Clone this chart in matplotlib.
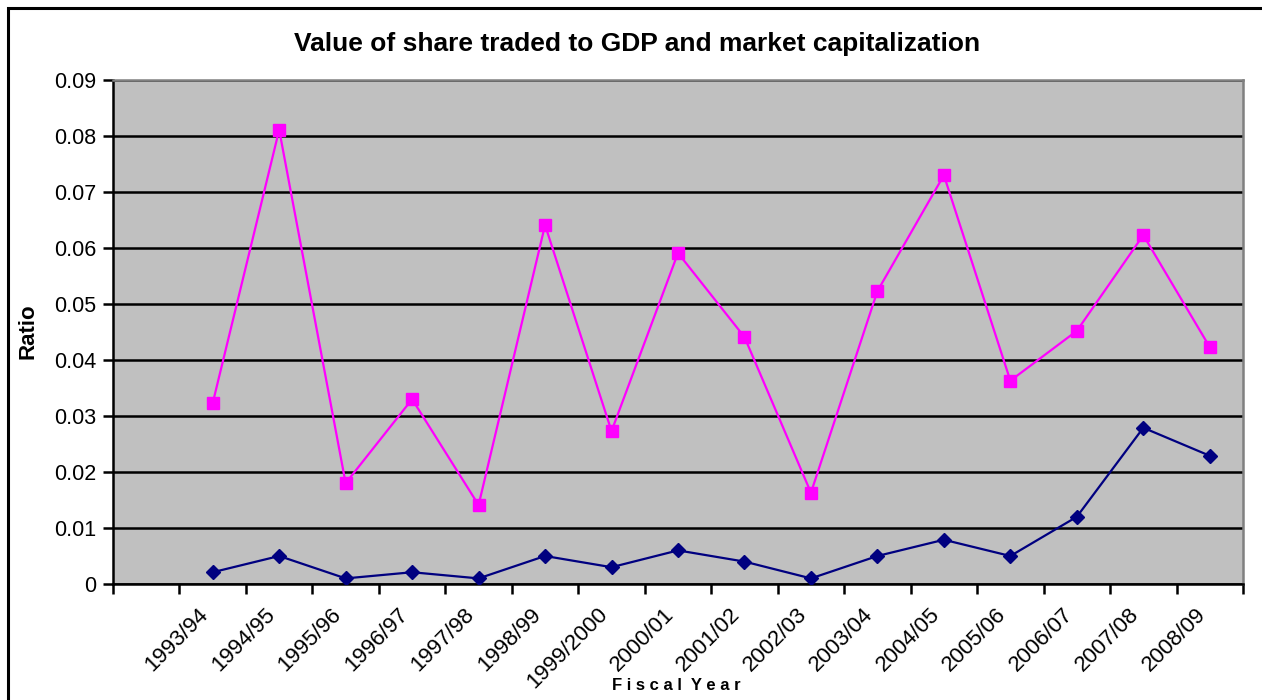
"""Value of share traded to GDP and market capitalization (Excel-style line chart)."""

import matplotlib
matplotlib.use("Agg")
import matplotlib.pyplot as plt
import numpy as np
from matplotlib.patches import Rectangle

plt.rcParams["font.family"] = ["Liberation Sans", "DejaVu Sans"]

# first category is empty in the source sheet
years = ["", "1993/94", "1994/95", "1995/96", "1996/97", "1997/98", "1998/99",
         "1999/2000", "2000/01", "2001/02", "2002/03", "2003/04", "2004/05",
         "2005/06", "2006/07", "2007/08", "2008/09"]
market_cap_ratio = [np.nan, 0.0323, 0.0811, 0.0180, 0.0330, 0.0141, 0.0641,
                    0.0273, 0.0591, 0.0441, 0.0163, 0.0523, 0.0730, 0.0363,
                    0.0452, 0.0623, 0.0423]
gdp_ratio = [np.nan, 0.0021, 0.0050, 0.0010, 0.0021, 0.0010, 0.0050,
             0.0030, 0.0060, 0.0040, 0.0010, 0.0050, 0.0079, 0.0050,
             0.0120, 0.0279, 0.0229]
y_ticks = [0, 0.01, 0.02, 0.03, 0.04, 0.05, 0.06, 0.07, 0.08, 0.09]
y_tick_labels = ["0", "0.01", "0.02", "0.03", "0.04", "0.05", "0.06", "0.07", "0.08", "0.09"]

W, H, DPI = 1262, 700, 100
fig = plt.figure(figsize=(W / DPI, H / DPI), dpi=DPI)
fig.patch.set_facecolor("white")

# outer chart border (runs off the right/bottom edge like the original)
fig.patches.append(Rectangle((8 / W, -0.1), 1.2, 1 - 8 / H + 0.1,
                             transform=fig.transFigure, fill=False,
                             edgecolor="black", linewidth=2.2, zorder=0))

ax = fig.add_axes([113 / W, 1 - 584 / H, (1243 - 113) / W, (584 - 80) / H])
ax.set_facecolor("#C0C0C0")

x = np.arange(len(years))
ax.plot(x, market_cap_ratio, color="#FF00FF", linewidth=1.6,
        marker="s", markersize=8, markeredgecolor="#FF00FF", zorder=3)
ax.plot(x, gdp_ratio, color="#000080", linewidth=1.6,
        marker="D", markersize=7.5, markeredgecolor="#000080", zorder=3)

ax.set_xlim(-0.5, len(years) - 0.5)
ax.set_ylim(0, 0.09)

ax.set_yticks(y_ticks)
ax.set_yticklabels(y_tick_labels, fontsize=15.5)
ax.tick_params(axis="y", direction="out", length=7, width=1.8, pad=5)
ax.yaxis.grid(True, color="black", linewidth=1.8)
ax.set_axisbelow(True)

# category boundaries get the tick marks, category centres get the labels
ax.set_xticks(np.arange(len(years) + 1) - 0.5)
ax.set_xticklabels([])
ax.tick_params(axis="x", which="major", direction="out", length=7, width=1.8)
ax.set_xticks(x, minor=True)
ax.set_xticklabels(years, minor=True, rotation=45, ha="right", va="bottom",
                   rotation_mode="anchor", fontsize=16)
ax.tick_params(axis="x", which="minor", length=0, pad=25)

for side in ("left", "bottom"):
    ax.spines[side].set_color("black")
    ax.spines[side].set_linewidth(1.8)
for side in ("top", "right"):
    ax.spines[side].set_color("#808080")
    ax.spines[side].set_linewidth(1.8)

fig.text(637 / W, 1 - 44 / H, "Value of share traded to GDP and market capitalization",
         ha="center", va="center", fontsize=19, fontweight="bold")
fig.text(28 / W, 1 - 331 / H, "Ratio", ha="center", va="center",
         rotation=90, fontsize=16, fontweight="bold")
fig.text(676 / W, 1 - 686 / H, "F i s c a l  Y e a r", ha="center", va="center",
         fontsize=12, fontweight="bold")

fig.savefig("out.png", dpi=DPI)
